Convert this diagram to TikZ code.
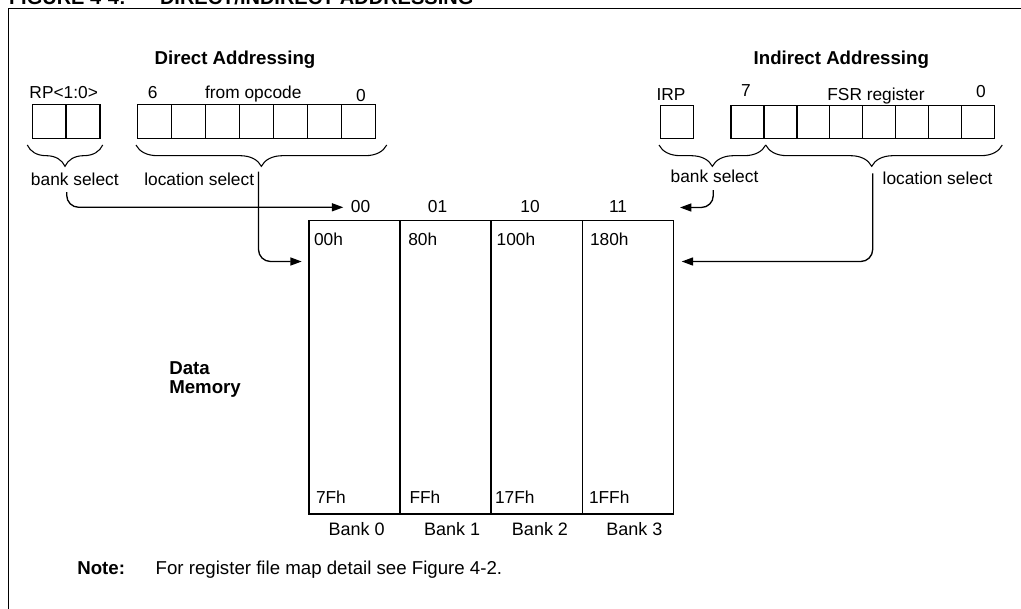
\documentclass[tikz,border=0pt]{standalone}
\usepackage{fontspec}
\setmainfont{Liberation Sans}
\usetikzlibrary{decorations.pathreplacing,arrows.meta}
\begin{document}
\begin{tikzpicture}[x=0.75pt,y=-0.75pt,
  lbl/.style={inner sep=0pt, outer sep=0pt, anchor=base, font=\fontsize{13}{15}\selectfont},
  lbll/.style={lbl, anchor=base west},
  hdr/.style={inner sep=0pt, outer sep=0pt, anchor=base, font=\fontsize{14}{16}\selectfont\bfseries},
  hdrl/.style={hdr, anchor=base west},
  banklbl/.style={lbl, font=\fontsize{13.5}{15}\selectfont},
  cellbox/.style={draw, line width=1.1pt, inner sep=0pt, outer sep=0pt},
  opcell/.style={cellbox, minimum width=25.5pt, minimum height=25.4pt},
  fsrcell/.style={cellbox, minimum width=24.68pt, minimum height=24.45pt},
  memcol/.style={cellbox, minimum width=68.31pt, minimum height=219.98pt},
  brc/.style={decorate, decoration={brace, amplitude=16pt}, line width=0.8pt},
  arr/.style={line width=1pt, -{Triangle[length=8.5pt,width=6pt]}, rounded corners=9pt},
  ]
\useasboundingbox (0,0) rectangle (1021,608);
\clip (0,0) rectangle (1021,608);

% frame and clipped title
\draw[line width=1.4pt] (8.5,640) -- (8.5,8.5) -- (1060,8.5);
\node[hdrl, font=\fontsize{15}{17}\selectfont\bfseries] (title1) at (9,4) {FIGURE 4-4:};
\node[hdrl, font=\fontsize{15}{17}\selectfont\bfseries] (title2) at (160,4) {DIRECT/INDIRECT ADDRESSING};

% headings
\node[hdr] (dah) at (235,64) {Direct Addressing};
\node[hdr] (iah) at (841.3,64) {Indirect Addressing};

% register labels
\node[lbl] (rplbl) at (63.7,98.7) {RP<1:0>};
\node[lbl] (bit6) at (152.8,98.5) {6};
\node[lbl] (fromop) at (253.3,98.4) {from opcode};
\node[lbl] (bit0d) at (361,101.7) {0};
\node[lbl] (irplbl) at (671,100.7) {IRP};
\node[lbl] (bit7) at (746,96.7) {7};
\node[lbl] (fsrlbl) at (876,100.7) {FSR register};
\node[lbl] (bit0i) at (981,97) {0};

% register cells
\foreach \i in {0,1}
  \node[opcell, minimum width=25.39pt] (rp\i) at ({49.2+33.9*\i},121.4) {};
\foreach \i in {0,...,6}
  \node[opcell] (op\i) at ({154.7+34*\i},121.4) {};
\node[fsrcell] (irp) at (677,122) {};
\foreach \i in {0,...,7}
  \node[fsrcell] (fsr\i) at ({747.46+32.91*\i},122) {};

% braces
\draw[brc] (102.7,145) -- (27.3,145);
\draw[brc] (386.7,145) -- (136,145);
\draw[brc] (765.7,145) -- (659,145);
\draw[brc, decoration={aspect=0.552}] (1002.3,145) -- (765.7,145);

% select labels
\node[lbll] (bsd) at (31,185.7) {bank select};
\node[lbll] (lsd) at (144.3,185.7) {location select};
\node[lbll] (bsi) at (670.7,182.3) {bank select};
\node[lbll] (lsi) at (882.7,184) {location select};

% bank numbers
\node[lbl] (c00) at (360.5,212.3) {00};
\node[lbl] (c01) at (437.5,212.3) {01};
\node[lbl] (c10) at (530,212.3) {10};
\node[lbl] (c11) at (618,212.3) {11};

% memory columns
\foreach \i in {0,...,3}
  \node[memcol] (bank\i) at ({354.54+91.08*\i},367.35) {};

\node[lbll] (a00) at (314,245.7) {00h};
\node[lbll] (a80) at (408.3,245.7) {80h};
\node[lbll] (a100) at (496.7,245.7) {100h};
\node[lbll] (a180) at (590,245.7) {180h};
\node[lbll] (e7f) at (316,503.3) {7Fh};
\node[lbll] (eff) at (409.5,503.3) {FFh};
\node[lbll] (e17f) at (495,503.3) {17Fh};
\node[lbll] (e1ff) at (589,503.3) {1FFh};

\node[banklbl] (bk0) at (356.7,535.7) {Bank 0};
\node[banklbl] (bk1) at (452.2,535.7) {Bank 1};
\node[banklbl] (bk2) at (540,535.7) {Bank 2};
\node[banklbl] (bk3) at (634.3,535.7) {Bank 3};

% data memory label
\node[hdrl] (dmem1) at (169.3,374) {Data};
\node[hdrl] (dmem2) at (169.3,393.3) {Memory};

% note
\node[hdrl] (notelbl) at (77.3,574.3) {Note:};
\node[lbll, font=\fontsize{14}{16}\selectfont] (notetxt) at (155.7,574.3) {For register file map detail see Figure 4-2.};

% connector coordinates
\coordinate (dbs) at (66.7,192);
\coordinate (dbt) at (343.3,207.3);
\coordinate (dls) at (258.5,171.5);
\coordinate (dlt) at (301.7,261.5);
\coordinate (ibs) at (713.3,190);
\coordinate (ibt) at (680,207.5);
\coordinate (ils) at (872.7,173.3);
\coordinate (ilt) at (681.7,261.5);

\draw[arr] (dbs) |- (dbt);
\draw[arr] (dls) |- (dlt);
\draw[arr] (ibs) |- (ibt);
\draw[arr] (ils) |- (ilt);
\end{tikzpicture}
\end{document}
